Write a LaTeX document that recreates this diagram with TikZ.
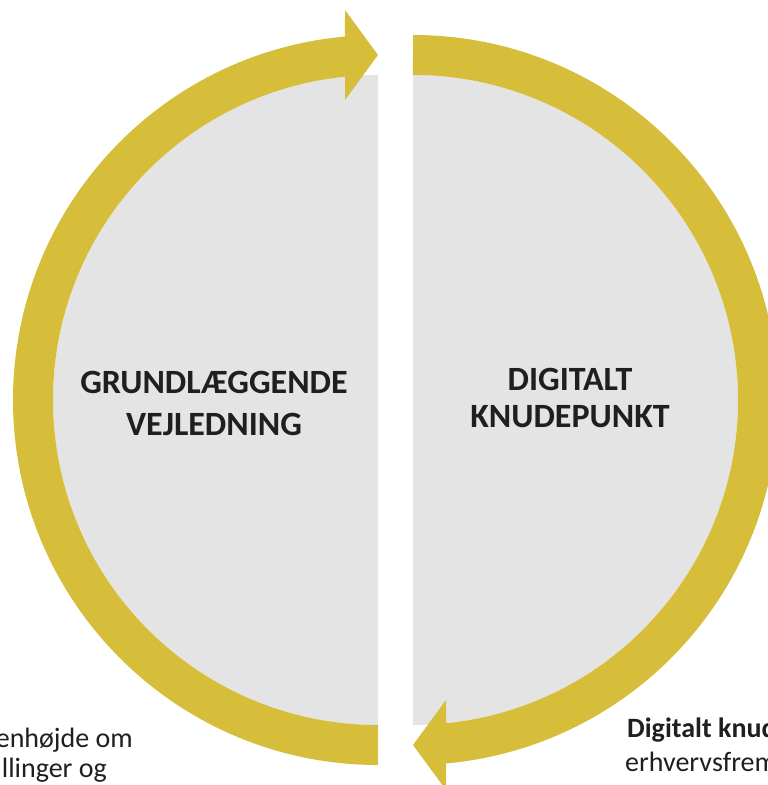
\documentclass[tikz,border=0pt]{standalone}
\usepackage{fontspec}
\setmainfont{Carlito}
\definecolor{bandyellow}{RGB}{215,190,58}
\definecolor{halfgray}{RGB}{228,228,228}
\begin{document}
\begin{tikzpicture}[x=1pt,y=1pt,
  band/.style={fill=bandyellow,draw=none},
  half/.style={fill=halfgray,draw=none},
  title/.style={align=center,text=black!88,inner sep=0pt},
  note/.style={font=\fontsize{28}{33}\selectfont,text=black!88,inner sep=0pt}]
\useasboundingbox (0,0) rectangle (768,785);
\clip (0,0) rectangle (768,785);
% left half
\fill[half] (378,60) arc[start angle=270,end angle=90,radius=325] -- cycle;
\fill[band] (378,20) arc[start angle=270,end angle=95.19,radius=365]
  -- (345,775) -- (378,730) -- (345,685) -- (345,708.3)
  arc[start angle=95.83,end angle=270,radius=325] -- cycle;
% right half (point symmetric)
\begin{scope}[rotate around={180:(395.5,385)}]
\fill[half] (378,60) arc[start angle=270,end angle=90,radius=325] -- cycle;
\fill[band] (378,20) arc[start angle=270,end angle=95.19,radius=365]
  -- (345,775) -- (378,730) -- (345,685) -- (345,708.3)
  arc[start angle=95.83,end angle=270,radius=325] -- cycle;
\end{scope}
\node[title,font=\bfseries\fontsize{34}{42}\selectfont] (gv) at (214,381.5) {GRUNDLÆGGENDE\\VEJLEDNING};
\node[title,font=\bfseries\fontsize{34}{37}\selectfont] (dk) at (570,387.5) {DIGITALT\\KNUDEPUNKT};
\node[note,anchor=base east] (l1) at (133,37) {enhøjde om};
\node[note,anchor=base east] (l2) at (107,7) {llinger og};
\node[note,anchor=base west,font=\bfseries\fontsize{28}{33}\selectfont] (r1) at (627,47) {Digitalt knudepunkt};
\node[note,anchor=base west] (r2) at (625,13) {erhvervsfremme};
\end{tikzpicture}
\end{document}
